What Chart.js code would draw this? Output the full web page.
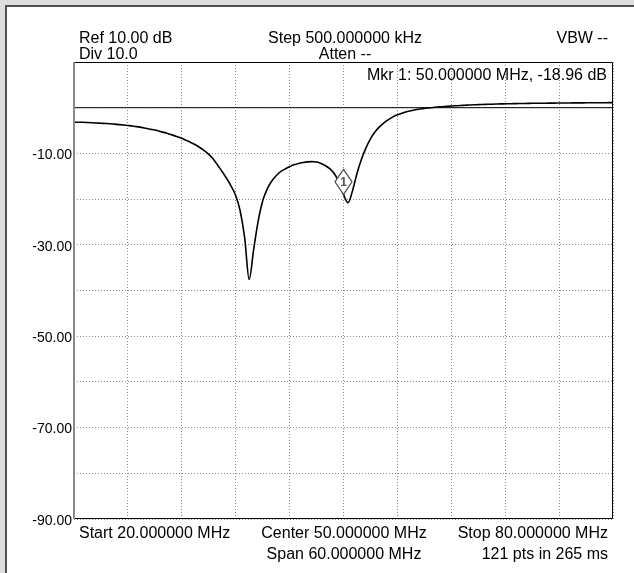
<!DOCTYPE html>
<html>
<head>
<meta charset="utf-8">
<script src="https://cdn.jsdelivr.net/npm/chart.js@4.4.0/dist/chart.umd.min.js"></script>
<style>
  html, body { margin: 0; padding: 0; background: #dedede; }
  #trace { display: block; }
</style>
</head>
<body>
<canvas id="trace" width="634" height="573"></canvas>
<script>
// sweep settings
const startMHz = 20
const stopMHz = 80
const points = 121
const refLevel = 10
const divDb = 10
const xStepMHz = 6

// measured level (dB), one per sweep point, 20 -> 80 MHz in 0.5 MHz steps
const levelDb = [
  -3.2, -3.2, -3.2, -3.25, -3.3, -3.35, -3.4, -3.45, -3.5, -3.6,        // 20.0 - 24.5
  -3.7, -3.8, -3.9, -4.0, -4.15, -4.3, -4.5, -4.7, -4.9, -5.15,          // 25.0 - 29.5
  -5.4, -5.7, -6.0, -6.35, -6.7, -7.15, -7.6, -8.1, -8.7, -9.4,          // 30.0 - 34.5
  -10.2, -11.2, -12.6, -14.0, -15.5, -17.2, -19.2, -22.6, -28.5, -37.6,  // 35.0 - 39.5
  -31.0, -24.8, -20.4, -17.8, -16.1, -14.9, -14.0, -13.4, -12.9, -12.5,  // 40.0 - 44.5
  -12.2, -12.0, -11.85, -11.8, -11.9, -12.2, -12.7, -13.4, -14.5, -16.3, // 45.0 - 49.5
  -18.96, -20.8, -18.2, -14.4, -11.3, -8.8, -6.8, -5.3, -4.2, -3.3,      // 50.0 - 54.5
  -2.6, -2.0, -1.55, -1.2, -0.9, -0.65, -0.45, -0.3, -0.15, -0.05,       // 55.0 - 59.5
  0.05, 0.15, 0.22, 0.3, 0.36, 0.42, 0.48, 0.53, 0.58, 0.63,             // 60.0 - 64.5
  0.67, 0.71, 0.74, 0.77, 0.8, 0.83, 0.85, 0.87, 0.89, 0.91,             // 65.0 - 69.5
  0.93, 0.94, 0.96, 0.97, 0.98, 0.99, 1.0, 1.01, 1.02, 1.03,             // 70.0 - 74.5
  1.04, 1.05, 1.05, 1.06, 1.07, 1.08, 1.08, 1.09, 1.09, 1.1,             // 75.0 - 79.5
  1.1                                                                    // 80.0
]

// reference line across the graticule
const refLineDb = [0, 0]

// marker 1
const markerMHz = [50]
const markerDb = [-18.96]
const markerLabels = ['1']

const yTickLabels = ['-10.00', '-30.00', '-50.00', '-70.00', '-90.00']

const headerLeft = ['Ref 10.00 dB', 'Div 10.0']
const headerCenter = ['Step 500.000000 kHz', 'Atten --']
const headerRight = ['VBW --']
const markerReadout = 'Mkr 1: 50.000000 MHz, -18.96 dB'
const footerLeft = ['Start 20.000000 MHz']
const footerCenter = ['Center 50.000000 MHz', 'Span 60.000000 MHz']
const footerRight = ['Stop 80.000000 MHz', '121 pts in 265 ms']

const stepMHz = (stopMHz - startMHz) / (points - 1)
const traceData = levelDb.map((v, i) => ({ x: startMHz + i * stepMHz, y: v }))
const refData = [{ x: startMHz, y: refLineDb[0] }, { x: stopMHz, y: refLineDb[1] }]

const FONT = '"Liberation Sans", Arial, sans-serif'

// window frame behind the graph
const framePlugin = {
  id: 'frame',
  beforeDraw(chart) {
    const ctx = chart.ctx
    ctx.save()
    ctx.fillStyle = '#dedede'
    ctx.fillRect(0, 0, chart.width, chart.height)
    ctx.fillStyle = '#ffffff'
    ctx.fillRect(5, 5, chart.width - 5, chart.height - 5)
    ctx.fillStyle = '#505050'
    ctx.fillRect(5, 5, chart.width - 5, 2)
    ctx.fillRect(5, 5, 2, chart.height - 5)
    ctx.restore()
  }
}

// graticule border, marker diamond and the annotation text
const annotatePlugin = {
  id: 'annotate',
  afterDatasetsDraw(chart) {
    const ctx = chart.ctx
    const a = chart.chartArea
    const xs = chart.scales.x, ys = chart.scales.y
    ctx.save()

    // border
    ctx.strokeStyle = '#000'
    ctx.lineWidth = 1
    ctx.beginPath()
    ctx.moveTo(a.left, a.top + 0.5)
    ctx.lineTo(a.right - 0.5, a.top + 0.5)
    ctx.lineTo(a.right - 0.5, a.bottom - 0.5)
    ctx.lineTo(a.left, a.bottom - 0.5)
    ctx.stroke()
    ctx.fillStyle = '#8a8a8a'
    ctx.fillRect(a.left - 1, a.top, 2, a.bottom - a.top)

    // markers: diamond sits on the trace point
    markerMHz.forEach((f, i) => {
      const px = xs.getPixelForValue(f)
      const py = ys.getPixelForValue(markerDb[i])
      const hw = 8.5, h = 25
      ctx.beginPath()
      ctx.moveTo(px, py)
      ctx.lineTo(px + hw, py - h / 2)
      ctx.lineTo(px, py - h)
      ctx.lineTo(px - hw, py - h / 2)
      ctx.closePath()
      ctx.fillStyle = '#fff'
      ctx.fill()
      ctx.strokeStyle = '#555'
      ctx.lineWidth = 1.3
      ctx.stroke()
      ctx.fillStyle = '#555'
      ctx.font = 'bold 12px ' + FONT
      ctx.textAlign = 'center'
      ctx.textBaseline = 'middle'
      ctx.fillText(markerLabels[i], px, py - h / 2 + 1)
    })

    ctx.fillStyle = '#000'
    ctx.font = '16px ' + FONT
    ctx.textBaseline = 'alphabetic'
    const lines = (arr, x, y0, gap, align) => {
      ctx.textAlign = align
      arr.forEach((t, i) => ctx.fillText(t, x, y0 + i * gap))
    }
    lines(headerLeft, 79, 43, 16, 'left')
    lines(headerCenter, 345, 43, 16, 'center')
    lines(headerRight, 608, 43, 16, 'right')
    lines([markerReadout], 607, 80, 16, 'right')
    lines(footerLeft, 79, 538, 21, 'left')
    lines(footerCenter, 344, 538, 21, 'center')
    lines(footerRight, 608, 538, 21, 'right')

    ctx.restore()
  }
}

const gridStyle = { color: '#8c8c8c', lineWidth: 1, drawTicks: false }

new Chart(document.getElementById('trace'), {
  type: 'line',
  data: {
    datasets: [
      {
        label: 'Ref line',
        data: refData,
        borderColor: '#000',
        borderWidth: 1,
        pointRadius: 0,
      },
      {
        label: 'Trace 1',
        data: traceData,
        borderColor: '#000',
        borderWidth: 1.6,
        pointRadius: 0,
        cubicInterpolationMode: 'monotone',
      },
    ]
  },
  options: {
    responsive: false,
    animation: false,
    events: [],
    layout: { padding: { top: 62, right: 21, bottom: 54, left: 0 } },
    plugins: { legend: { display: false }, tooltip: { enabled: false } },
    scales: {
      x: {
        type: 'linear',
        min: startMHz,
        max: stopMHz,
        grid: gridStyle,
        border: { display: false, dash: [1, 2] },
        ticks: { display: false, stepSize: xStepMHz },
        afterFit: (s) => { s.height = 0 },
      },
      y: {
        min: refLevel - 10 * divDb,
        max: refLevel,
        grid: gridStyle,
        border: { display: false, dash: [1, 2] },
        ticks: {
          stepSize: divDb,
          padding: 2,
          labelOffset: 2,
          color: '#000',
          font: { family: FONT, size: 14 },
          callback: (v) => yTickLabels.includes(v.toFixed(2)) ? v.toFixed(2) : '',
        },
        afterFit: (s) => { s.width = 74 },
      }
    }
  },
  plugins: [framePlugin, annotatePlugin]
});
</script>
</body>
</html>
